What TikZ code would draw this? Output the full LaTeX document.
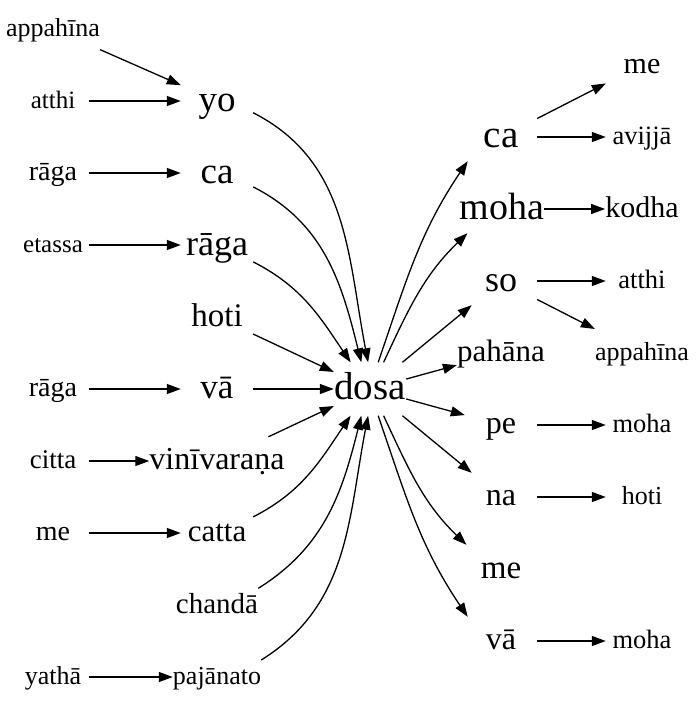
\documentclass[tikz,border=0pt]{standalone}
\usepackage{fontspec}
\setmainfont{Liberation Serif}
\usetikzlibrary{arrows.meta}

\begin{document}
\begin{tikzpicture}[
    x=1pt, y=1pt,
    >={Triangle[length=14pt,width=10pt]},
    word/.style={inner sep=0pt, minimum width=72pt, minimum height=48pt,
                 font=\fontsize{#1}{#1}\selectfont,
                 execute at begin node={\rule[-0.22em]{0pt}{1em}}},
    word/.default=26,
    arr/.style={->, line width=1.3pt},
  ]
  \useasboundingbox (0,0) rectangle (696,-707);

  % centre word
  \node[word=39, minimum height=53pt] (dosa) at (370,-389) {dosa};

  % first column
  \node[word=26] (appahinaL) at (53,-29) {appahīna};
  \node[word=25] (atthiL) at (53,-101) {atthi};
  \node[word=28] (ragaL) at (53,-173) {rāga};
  \node[word=25] (etassa) at (53,-245) {etassa};
  \node[word=28] (ragaM) at (53,-389) {rāga};
  \node[word=27] (citta) at (53,-461) {citta};
  \node[word=28] (meL) at (53,-533) {me};
  \node[word=26] (yatha) at (53,-677) {yathā};

  % words leading into dosa
  \node[word=37] (yo) at (217,-101) {yo};
  \node[word=37] (ca) at (217,-173) {ca};
  \node[word=36] (raga) at (217,-245) {rāga};
  \node[word=33] (hoti) at (217,-317) {hoti};
  \node[word=35] (va) at (217,-389) {vā};
  \node[word=32] (vinivarana) at (217,-461) {vinīvaraṇa};
  \node[word=31] (catta) at (217,-533) {catta};
  \node[word=29] (chanda) at (217,-605) {chandā};
  \node[word=26] (pajanato) at (217,-677) {pajānato};

  % words following dosa
  \node[word=39] (ca2) at (501,-137) {ca};
  \node[word=38] (moha) at (502,-209) {moha};
  \node[word=36] (so) at (501,-281) {so};
  \node[word=31] (pahana) at (501,-353) {pahāna};
  \node[word=32] (pe) at (501,-425) {pe};
  \node[word=32] (na) at (501,-497) {na};
  \node[word=33] (me) at (501,-569) {me};
  \node[word=32] (va2) at (501,-641) {vā};

  % last column
  \node[word=30] (meR) at (642,-65) {me};
  \node[word=26.5] (avijja) at (642,-137) {avijjā};
  \node[word=30] (kodha) at (642,-209) {kodha};
  \node[word=26.5] (atthiR) at (642,-281) {atthi};
  \node[word=26] (appahinaR) at (642,-353) {appahīna};
  \node[word=26.5] (mohaA) at (642,-425) {moha};
  \node[word=26] (hotiR) at (642,-497) {hoti};
  \node[word=26.5] (mohaB) at (642,-641) {moha};

  \draw[arr] (appahinaL) -- (yo);
  \draw[arr] (atthiL) -- (yo);
  \draw[arr] (ragaL) -- (ca);
  \draw[arr] (etassa) -- (raga);
  \draw[arr] (ragaM) -- (va);
  \draw[arr] (citta) -- (vinivarana);
  \draw[arr] (meL) -- (catta);
  \draw[arr] (yatha) -- (pajanato);

  % into dosa
  \draw[arr] (yo.-18) to[out=-27, in=101] (dosa.94);
  \draw[arr] (ca.-21) to[out=-27, in=104] (dosa.108);
  \draw[arr] (raga.-25) to[out=-27, in=124] (dosa.126);
  \draw[arr] (hoti) -- (dosa);
  \draw[arr] (va) -- (dosa);
  \draw[arr] (vinivarana) -- (dosa);
  \draw[arr] (catta.24) to[out=27, in=-124] (dosa.-126);
  \draw[arr] (chanda.22) to[out=32, in=-104] (dosa.-108);
  \draw[arr] (pajanato.21) to[out=32, in=-101] (dosa.-94);

  % out of dosa
  \draw[arr] (dosa.73) to[out=71, in=-124] (ca2.-144);
  \draw[arr] (dosa.63) to[out=65, in=-136] (moha.-145);
  \draw[arr] (dosa) -- (so);
  \draw[arr] (dosa) -- (pahana);
  \draw[arr] (dosa) -- (pe);
  \draw[arr] (dosa) -- (na);
  \draw[arr] (dosa.-63) to[out=-65, in=136] (me.145);
  \draw[arr] (dosa.-73) to[out=-71, in=124] (va2.144);

  \draw[arr] (ca2) -- (meR);
  \draw[arr] (ca2) -- (avijja);
  \draw[arr] (moha) -- (kodha);
  \draw[arr] (so) -- (atthiR);
  \draw[arr] (so) -- (appahinaR);
  \draw[arr] (pe) -- (mohaA);
  \draw[arr] (na) -- (hotiR);
  \draw[arr] (va2) -- (mohaB);
\end{tikzpicture}
\end{document}
